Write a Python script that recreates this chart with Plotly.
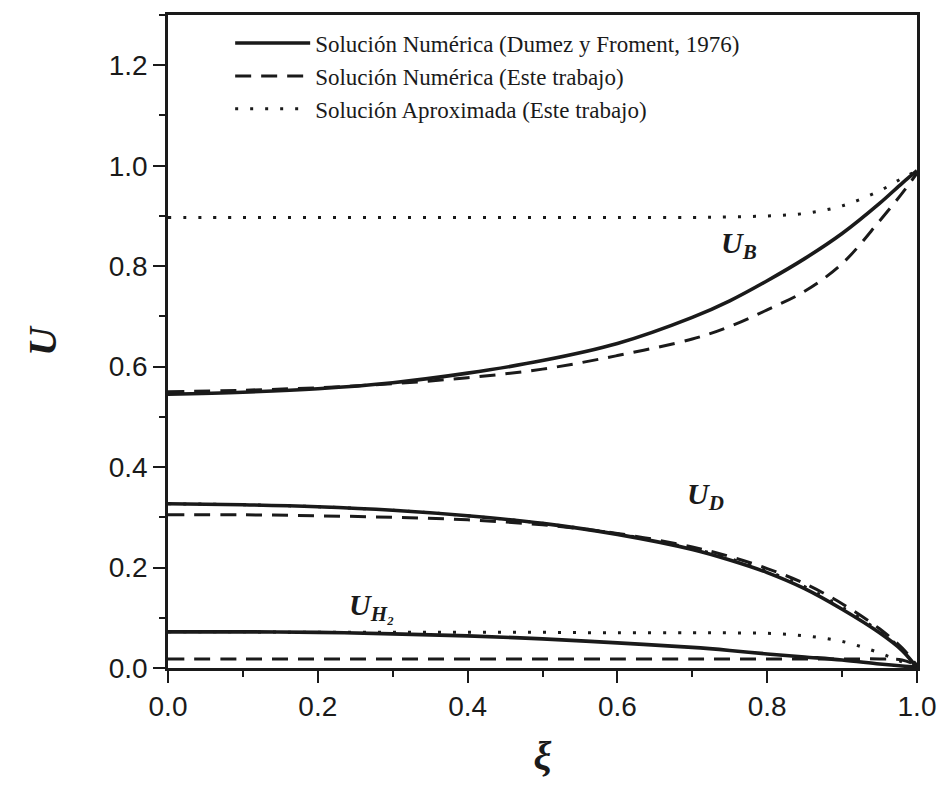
import plotly.graph_objects as go

# Dimensionless position along the pellet
xi = [0.0, 0.1, 0.2, 0.3, 0.4, 0.5, 0.6, 0.7, 0.75, 0.8, 0.85, 0.9, 0.95, 0.98, 1.0]

# U_B profiles
ub_dumez = [0.545, 0.549, 0.556, 0.568, 0.587, 0.612, 0.646, 0.698, 0.731, 0.771, 0.815, 0.865, 0.925, 0.965, 0.990]
ub_num = [0.550, 0.553, 0.558, 0.566, 0.578, 0.595, 0.622, 0.655, 0.680, 0.713, 0.750, 0.805, 0.890, 0.945, 0.985]
ub_aprox = [0.897, 0.897, 0.897, 0.897, 0.897, 0.897, 0.897, 0.897, 0.898, 0.900, 0.905, 0.920, 0.950, 0.975, 0.990]

# U_D profiles
ud_dumez = [0.327, 0.325, 0.321, 0.314, 0.303, 0.288, 0.266, 0.236, 0.215, 0.190, 0.158, 0.117, 0.070, 0.035, 0.000]
ud_num = [0.305, 0.305, 0.303, 0.300, 0.295, 0.285, 0.268, 0.241, 0.222, 0.198, 0.168, 0.128, 0.078, 0.040, 0.005]
ud_aprox = [0.327, 0.325, 0.321, 0.314, 0.303, 0.288, 0.267, 0.238, 0.218, 0.193, 0.162, 0.121, 0.073, 0.037, 0.002]

# U_H2 profiles
uh2_dumez = [0.072, 0.072, 0.071, 0.068, 0.064, 0.058, 0.050, 0.041, 0.035, 0.028, 0.022, 0.016, 0.008, 0.004, 0.002]
uh2_num = [0.018, 0.018, 0.018, 0.018, 0.018, 0.018, 0.018, 0.018, 0.018, 0.018, 0.018, 0.018, 0.018, 0.016, 0.005]
uh2_aprox = [0.072, 0.072, 0.071, 0.071, 0.071, 0.071, 0.070, 0.070, 0.070, 0.069, 0.064, 0.053, 0.030, 0.012, 0.003]

legend_names = [
    "Solución Numérica (Dumez y Froment, 1976)",
    "Solución Numérica (Este trabajo)",
    "Solución Aproximada (Este trabajo)",
]

INK = "#1a1a1a"
styles = [
    dict(width=3.6, dash="solid"),
    dict(width=3.0, dash="16px,10px"),
    dict(width=3.0, dash="3px,12px"),
]

groups = [
    (ub_dumez, ub_num, ub_aprox),
    (ud_dumez, ud_num, ud_aprox),
    (uh2_dumez, uh2_num, uh2_aprox),
]

fig = go.Figure()
for k in range(3):
    for g, series in enumerate(groups):
        fig.add_trace(go.Scatter(
            x=xi, y=series[k], mode="lines",
            line=dict(color=INK, shape="spline", smoothing=1.0, **styles[k]),
            name=legend_names[k], legendgroup=f"m{k}",
            showlegend=(g == 0), hoverinfo="skip",
        ))

label_font = dict(family="Liberation Serif", size=30, color=INK)
curve_labels = [
    (0.763, 0.843, "<b><i>U</i></b><sub><b><i>B</i></b></sub>"),
    (0.717, 0.343, "<b><i>U</i></b><sub><b><i>D</i></b></sub>"),
    (0.272, 0.121, "<b><i>U</i></b><sub><b><i>H₂</i></b></sub>"),
]
for x, y, t in curve_labels:
    fig.add_annotation(x=x, y=y, text=t, showarrow=False, font=label_font)

axis_common = dict(
    showgrid=False, zeroline=False, showline=True, linecolor=INK, linewidth=2.5,
    mirror=True, ticks="outside", ticklen=12, tickwidth=2, tickcolor=INK,
    tickfont=dict(family="Liberation Sans", size=28, color=INK),
    minor=dict(ticks="outside", ticklen=6, tickwidth=2, tickcolor=INK),
)

fig.update_layout(
    width=948, height=791,
    margin=dict(l=168, r=24, t=14, b=123),
    paper_bgcolor="white", plot_bgcolor="white",
    showlegend=True,
    legend=dict(
        x=0.083, y=0.99, xanchor="left", yanchor="top",
        bgcolor="rgba(0,0,0,0)", borderwidth=0,
        font=dict(family="Liberation Serif", size=23, color=INK),
        itemwidth=75, tracegroupgap=0,
    ),
    xaxis=dict(
        range=[0, 1], dtick=0.2, tickformat=".1f",
        title=dict(text="<b><i>ξ</i></b>", standoff=20,
                   font=dict(family="Liberation Serif", size=40, color=INK)),
        **axis_common,
    ),
    yaxis=dict(
        range=[0, 1.3], dtick=0.2, tickformat=".1f",
        title=dict(text="<b><i>U</i></b>", standoff=40,
                   font=dict(family="Liberation Serif", size=40, color=INK)),
        **axis_common,
    ),
)
fig.update_xaxes(minor_dtick=0.1)
fig.update_yaxes(minor_dtick=0.1)

fig.write_html("out.html")
